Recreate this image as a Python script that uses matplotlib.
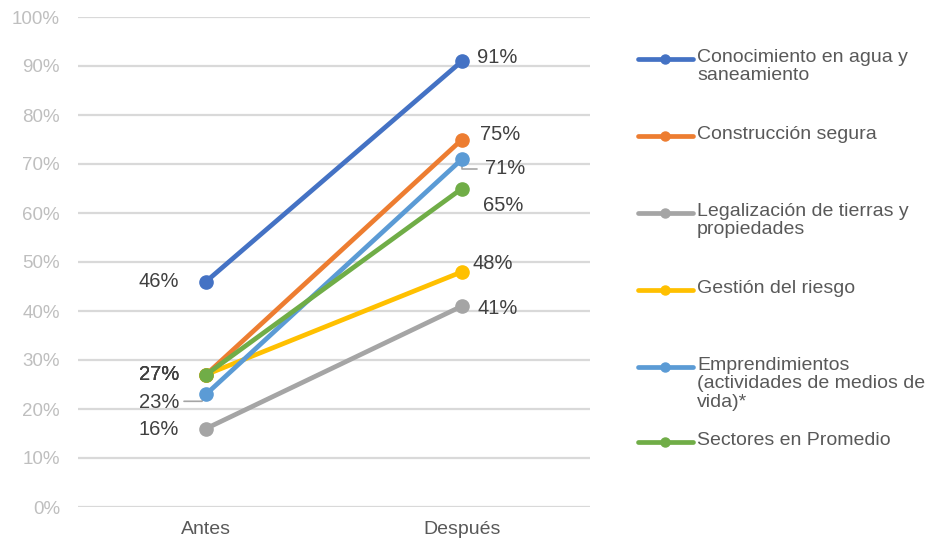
import matplotlib
matplotlib.use("Agg")
import matplotlib.pyplot as plt
from matplotlib.lines import Line2D

plt.rcParams['font.family'] = ['Liberation Sans', 'DejaVu Sans']

categories = ["Antes", "Después"]
series_names = [
    "Conocimiento en agua y\nsaneamiento",
    "Construcción segura",
    "Legalización de tierras y\npropiedades",
    "Gestión del riesgo",
    "Emprendimientos\n(actividades de medios de\nvida)*",
    "Sectores en Promedio",
]
antes = [46, 27, 16, 27, 23, 27]
despues = [91, 75, 41, 48, 71, 65]
colors = ["#4472C4", "#ED7D31", "#A5A5A5", "#FFC000", "#5B9BD5", "#70AD47"]
yticks = [0, 10, 20, 30, 40, 50, 60, 70, 80, 90, 100]

# label offsets in pixels (layout only)
antes_off = [(-27, 0), (-27, 0), (-27, -1), (-27, 0), (-27, -8), (-27, 0)]
desp_off = [(15, 4), (18, 5), (15, -2), (10, 8), (23, -9), (21, -17)]

fig = plt.figure(figsize=(9.26, 5.40), dpi=100)
ax = fig.add_axes([78/926, 1-507/540, 512/926, 490/540])
ax.set_xlim(-0.5, 1.5)
ax.set_ylim(0, 100)
ax.set_yticks(yticks)
ax.set_yticklabels([f"{v}%" for v in yticks], color="#BFBFBF", fontsize=13.5)
ax.set_xticks([0, 1])
ax.set_xticklabels(categories, color="#595959", fontsize=14)
ax.tick_params(axis='x', length=0, pad=10)
ax.tick_params(axis='y', length=0, pad=13)
for s in ax.spines.values():
    s.set_visible(False)
ax.grid(axis='y', color="#D9D9D9", lw=1.6)
ax.set_axisbelow(True)

for i in range(len(series_names)):
    ax.plot([0, 1], [antes[i], despues[i]], color=colors[i], lw=3.4,
            marker='o', markersize=9.5, solid_capstyle='round', zorder=3 + i)

for i in range(len(series_names)):
    ax.annotate(f"{antes[i]}%", (0, antes[i]), xytext=antes_off[i],
                textcoords='offset pixels', ha='right', va='center',
                fontsize=14.5, color="#404040", zorder=20)
    ax.annotate(f"{despues[i]}%", (1, despues[i]), xytext=desp_off[i],
                textcoords='offset pixels', ha='left', va='center',
                fontsize=14.5, color="#404040", zorder=20)

# leader lines (gray) for crowded labels
ax.annotate("", (0, antes[4]), xytext=(-22, -7), textcoords='offset pixels',
            arrowprops=dict(arrowstyle='-', color="#A5A5A5", lw=1.2,
                            connectionstyle="angle,angleA=0,angleB=60,rad=0",
                            shrinkA=0, shrinkB=4))
ax.annotate("", (1, despues[4]), xytext=(15, -10), textcoords='offset pixels',
            arrowprops=dict(arrowstyle='-', color="#A5A5A5", lw=1.2,
                            connectionstyle="angle,angleA=0,angleB=90,rad=0",
                            shrinkA=0, shrinkB=5))

# legend (manual layout)
leg_y = [59, 136, 213, 290, 367, 442]
for i in range(len(series_names)):
    y = 1 - leg_y[i]/540
    fig.add_artist(Line2D([638/926, 693/926], [y, y], color=colors[i], lw=3.4,
                          solid_capstyle='round', transform=fig.transFigure))
    fig.add_artist(Line2D([665/926], [y], color=colors[i], marker='o',
                          markersize=6.5, transform=fig.transFigure))
    fig.text(697/926, y + 10/540, series_names[i], ha='left', va='top',
             fontsize=14, color="#595959", linespacing=1.1)

fig.savefig("out.png", dpi=100)
